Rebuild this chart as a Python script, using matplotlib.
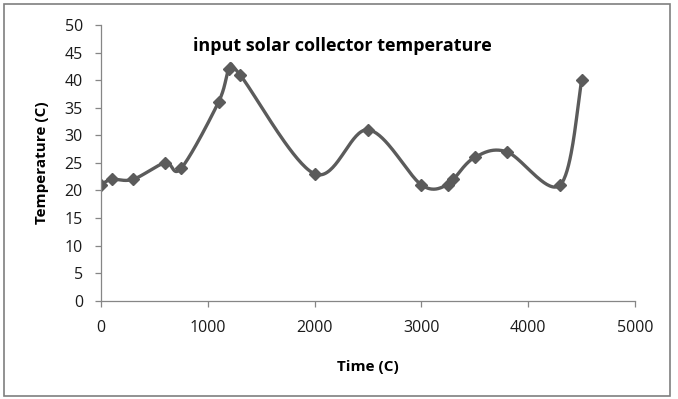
import numpy as np
import matplotlib.pyplot as plt
from matplotlib.patches import Rectangle

time_s = [0, 100, 300, 600, 750, 1100, 1200, 1300, 2000, 2500,
          3000, 3250, 3300, 3500, 3800, 4300, 4500]
temp_c = [21, 22, 22, 25, 24, 36, 42, 41, 23, 31,
          21, 21, 22, 26, 27, 21, 40]


def smooth(xs, ys, n=40):
    # bezier segments with control points from neighbouring points (spreadsheet-style smoothing)
    pts = np.column_stack([np.asarray(xs, float), np.asarray(ys, float)])
    out = []
    for i in range(len(pts) - 1):
        p0 = pts[i - 1] if i > 0 else pts[i]
        p1 = pts[i]
        p2 = pts[i + 1]
        p3 = pts[i + 2] if i + 2 < len(pts) else pts[i + 1]
        c1 = p1 + (p2 - p0) / 6.0
        c2 = p2 - (p3 - p1) / 6.0
        t = np.linspace(0, 1, n)[:, None]
        seg = ((1 - t) ** 3) * p1 + 3 * ((1 - t) ** 2) * t * c1 \
            + 3 * (1 - t) * t ** 2 * c2 + t ** 3 * p2
        out.append(seg if i == 0 else seg[1:])
    seg = np.vstack(out)
    return seg[:, 0], seg[:, 1]


plt.rcParams['font.family'] = ['Open Sans', 'DejaVu Sans']
fig = plt.figure(figsize=(6.78, 3.99), dpi=100)
ax = fig.add_axes([0.149, 0.2464, 0.7876, 0.691])

line_col = '#5b5b5b'
sx, sy = smooth(time_s, temp_c)
ax.plot(sx, sy, color=line_col, lw=2.4, solid_capstyle='round')
ax.plot(time_s, temp_c, linestyle='none', marker='D', ms=6.5,
        color=line_col, markeredgecolor=line_col)

ax.set_xlim(0, 5000)
ax.set_ylim(0, 50)
ax.set_xticks(range(0, 5001, 1000))
ax.set_yticks(range(0, 51, 5))
for s in ('top', 'right'):
    ax.spines[s].set_visible(False)
for s in ('left', 'bottom'):
    ax.spines[s].set_color('#868686')
    ax.spines[s].set_linewidth(0.9)
ax.tick_params(colors='#868686', labelcolor='#1a1a1a', labelsize=11.5,
               length=4, width=0.9)
ax.tick_params(axis='y', pad=9)
ax.tick_params(axis='x', pad=10)

ax.set_xlabel('Time (C)', fontsize=11, fontweight='bold', labelpad=17)
ax.set_ylabel('Temperature (C)', fontsize=11, fontweight='bold', labelpad=11)
ax.text(0.452, 0.925, 'input solar collector temperature', transform=ax.transAxes,
        ha='center', va='center', fontsize=13, fontweight='bold')

fig.patches.append(Rectangle((4 / 678, 3 / 399), 666 / 678, 392 / 399,
                             transform=fig.transFigure, fill=False,
                             edgecolor='#7f7f7f', lw=1.2))

fig.savefig('out.png', dpi=100)
